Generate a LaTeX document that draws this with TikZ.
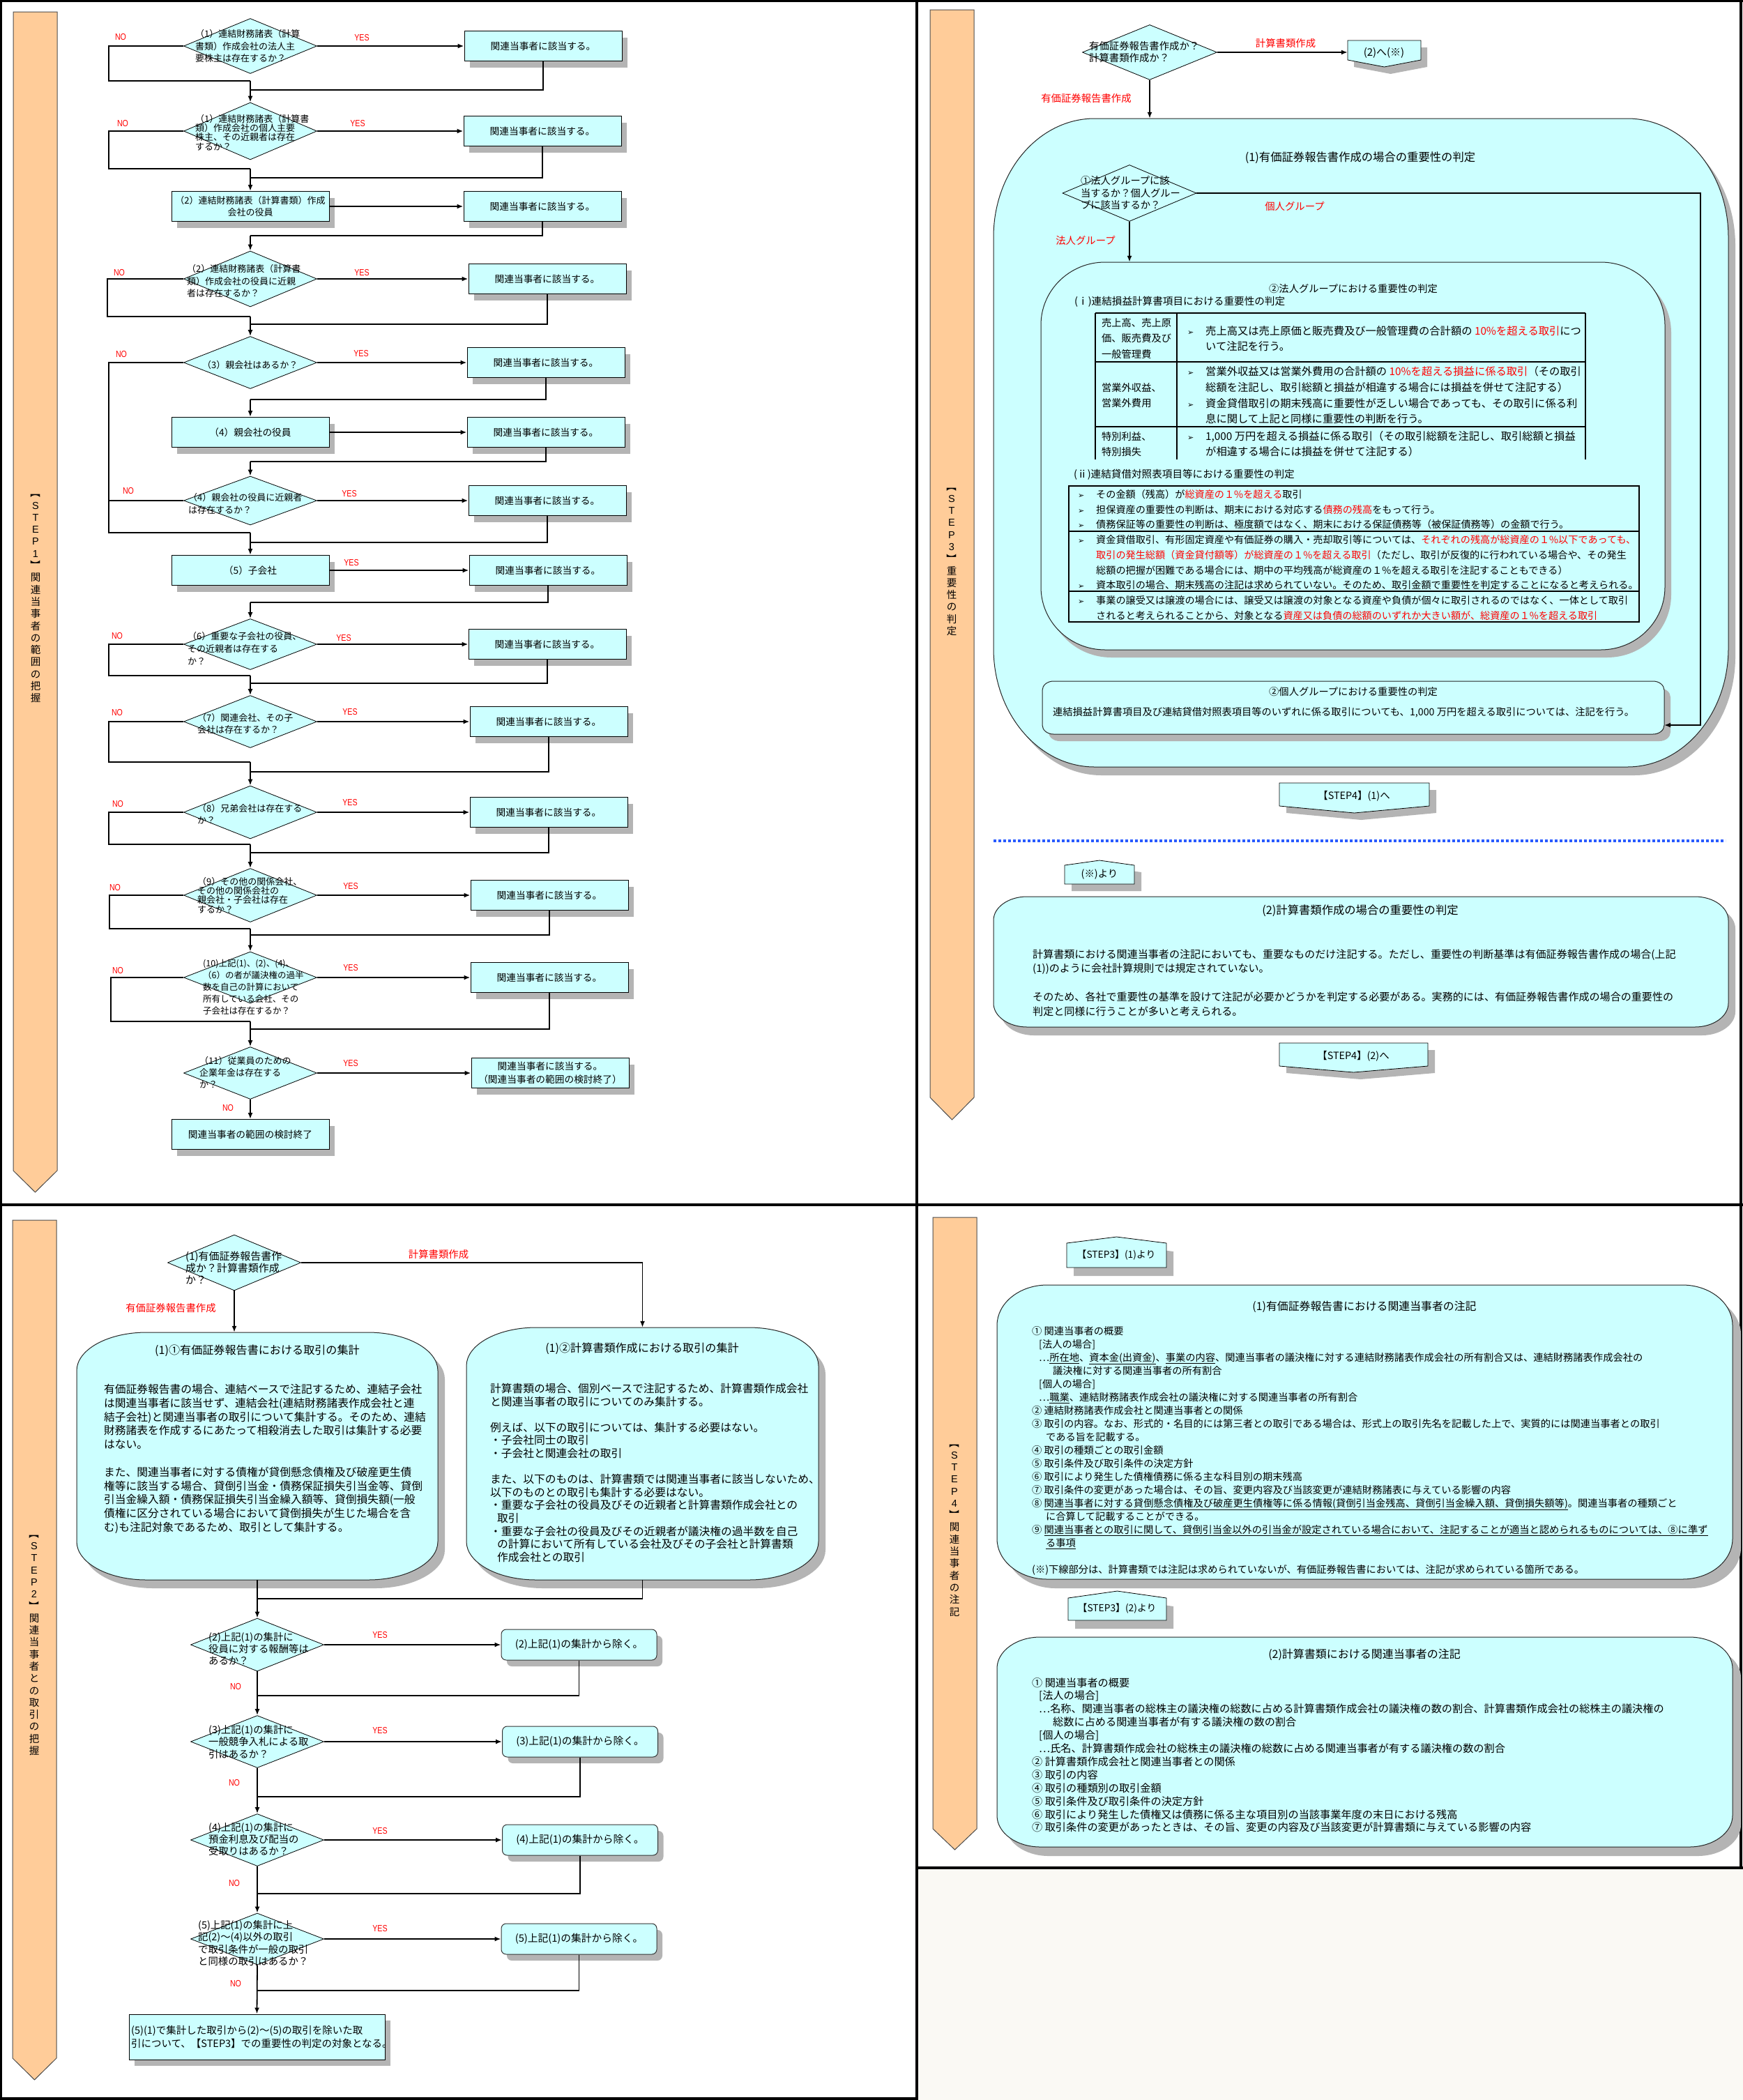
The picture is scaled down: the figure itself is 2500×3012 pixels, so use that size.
\documentclass[tikz,border=0pt]{standalone}
\usepackage{fontspec}
\usepackage{graphicx}
\usetikzlibrary{shapes.geometric,arrows.meta,shadows}
\setmainfont{Liberation Sans}
\newfontfamily\jp{Noto Sans CJK JP}
\newfontfamily\latn[FakeStretch=0.82]{Liberation Sans}
\newfontfamily\lat{Liberation Sans}
\newfontfamily\dv{DejaVu Sans}
\newcommand\FJ[2]{\jp\fontsize{#1}{#2}\selectfont\lineskiplimit=-60pt\relax}
\newcommand\FW[2]{\jp\fontsize{\fpeval{#1*1.15}}{#2}\selectfont\lineskiplimit=-60pt\relax}
\newcommand\RED[1]{\textcolor{red}{#1}}
\newcommand\UL[1]{\underline{#1}}
\newcommand\BUL{\makebox[26pt][l]{\dv\fontsize{11}{11}\selectfont ➢}}
\newcommand\RB[1]{\rotatebox[origin=c]{-90}{#1}}
\newcommand\rrpath[6]{({#1+#5},#2) -- ({#3-#5},#2) .. controls ({#3-0.448*#5},#2) and (#3,{#2+0.448*#6}) .. (#3,{#2+#6}) -- (#3,{#4-#6}) .. controls (#3,{#4-0.448*#6}) and ({#3-0.448*#5},#4) .. ({#3-#5},#4) -- ({#1+#5},#4) .. controls ({#1+0.448*#5},#4) and (#1,{#4-0.448*#6}) .. (#1,{#4-#6}) -- (#1,{#2+#6}) .. controls (#1,{#2+0.448*#6}) and ({#1+0.448*#5},#2) .. ({#1+#5},#2) -- cycle}
\newcommand\PDown[5]{(#1,#3) -- (#2,#3) -- (#2,#4) -- ({(#1+#2)/2},#5) -- (#1,#4) -- cycle}
\newcommand\PUp[5]{({(#1+#2)/2},#3) -- (#2,#4) -- (#2,#5) -- (#1,#5) -- (#1,#4) -- cycle}
\definecolor{cy}{RGB}{204,255,255}
\definecolor{barc}{RGB}{255,204,153}
\definecolor{shg}{RGB}{180,180,180}
\definecolor{offw}{RGB}{250,249,244}
\definecolor{dotb}{RGB}{40,90,255}
\tikzset{
 cLine/.style={line width=1.8pt},
 cArr/.style={line width=1.8pt,-{Latex[length=9pt,width=7pt]}},
 cFrame/.style={line width=3.6pt},
 cDia/.style={diamond,draw=black,line width=0.8pt,fill=cy,minimum width=191pt,inner sep=0pt},
 cShadow/.style={drop shadow={shadow xshift=8pt,shadow yshift=-9pt,fill=shg,opacity=1}},
 cBox/.style={rectangle,draw=black,line width=1pt,fill=cy,minimum width=226pt,minimum height=43pt,inner sep=0pt,align=center,font=\FJ{13.7}{19},cShadow},
 cSBox/.style={rectangle,rounded corners=7pt,draw=black!80,line width=1pt,fill=cy,minimum width=223pt,minimum height=44pt,inner sep=0pt,font=\FW{12.8}{16},cShadow},
 cYN/.style={font=\latn\fontsize{13}{13}\selectfont,text=red,inner sep=0pt},
 cRed/.style={font=\FW{12.5}{15},text=red,inner sep=0pt},
 cTxt/.style={inner sep=0pt,align=left,anchor=west},
 cDt/.style={inner sep=0pt,align=left,anchor=west},
 cGhost/.style={inner sep=0pt,draw=none,fill=none},
 cBar/.style={fill=barc,draw=black!70,line width=1pt},
 cStepLab/.style={inner sep=0pt,align=center,font=\FJ{14.5}{17.3}},
 cRR/.style={fill=cy,draw=black!85,line width=1pt},
 cPent/.style={fill=cy,draw=black,line width=0.8pt},
}
\begin{document}
\begin{tikzpicture}[x=1pt,y=-1pt]
\useasboundingbox (0,0) rectangle (2500,3012);
\fill[white] (0,0) rectangle (2500,3012);
\fill[offw] (1315,2679) rectangle (2500,3012);
% ===== frames
\draw[cFrame] (0,1.5) -- (2500,1.5);
\draw[cFrame] (1.5,0) -- (1.5,3012);
\draw[cFrame] (2497,0) -- (2497,2679);
\draw[cFrame] (1315,0) -- (1315,3012);
\draw[cFrame] (0,1728) -- (2500,1728);
\draw[cFrame] (1315,2679) -- (2500,2679);
\draw[cFrame] (0,3010) -- (1315,3010);
% ===== STEP bars
\filldraw[cBar] (19,17) -- (82,17) -- (82,1679) -- (50.5,1710) -- (19,1679) -- cycle;
\filldraw[cBar] (1334,14) -- (1397,14) -- (1397,1574) -- (1365.5,1606) -- (1334,1574) -- cycle;
\filldraw[cBar] (18,1750) -- (81,1750) -- (81,2952) -- (49.5,2983) -- (18,2952) -- cycle;
\filldraw[cBar] (1338,1746) -- (1401,1746) -- (1401,2623) -- (1369.5,2653) -- (1338,2623) -- cycle;
\node[cStepLab] (lab1) at (51,854) {\RB{【}\\{\lat S}\\{\lat T}\\{\lat E}\\{\lat P}\\{\lat 1}\\\RB{】}\\関\\連\\当\\事\\者\\の\\範\\囲\\の\\把\\握};
\node[cStepLab] (lab3) at (1365,801) {\RB{【}\\{\lat S}\\{\lat T}\\{\lat E}\\{\lat P}\\{\lat 3}\\\RB{】}\\重\\要\\性\\の\\判\\定};
\node[cStepLab] (lab2) at (49,2355) {\RB{【}\\{\lat S}\\{\lat T}\\{\lat E}\\{\lat P}\\{\lat 2}\\\RB{】}\\関\\連\\当\\事\\者\\と\\の\\取\\引\\の\\把\\握};
\node[cStepLab] (lab4) at (1369,2190) {\RB{【}\\{\lat S}\\{\lat T}\\{\lat E}\\{\lat P}\\{\lat 4}\\\RB{】}\\関\\連\\当\\事\\者\\の\\注\\記};

% ================= STEP1 =================
\node[cDia,minimum height=79pt] (D1) at (359,66) {};
\node[cDia,minimum height=82pt] (D2) at (359,188) {};
\node[cBox,font=\FJ{13}{17}] (B2) at (359,296) {（2）連結財務諸表（計算書類）作成\\会社の役員};
\node[cDia,minimum height=80pt] (D3) at (359,400) {};
\node[cDia,minimum height=75pt] (D4) at (359,520) {};
\node[cBox] (B4) at (359,620) {（4）親会社の役員};
\node[cDia,minimum height=70pt] (D5) at (359,718) {};
\node[cBox] (B5) at (359,818) {（5）子会社};
\node[cDia,minimum height=73pt] (D6) at (359,924) {};
\node[cDia,minimum height=75pt] (D7) at (359,1035) {};
\node[cDia,minimum height=76pt] (D8) at (359,1165) {};
\node[cDia,minimum height=77pt] (D9) at (359,1284) {};
\node[cDia,minimum height=74pt] (D10) at (359,1402) {};
\node[cDia,minimum height=75pt] (D11) at (359,1539) {};
\node[cBox] (End) at (359,1627) {関連当事者の範囲の検討終了};

\node[cBox] (Y1) at (779,66) {関連当事者に該当する。};
\node[cBox] (Y2) at (778,188) {関連当事者に該当する。};
\node[cBox] (Y3) at (778,296) {関連当事者に該当する。};
\node[cBox] (Y4) at (785,400) {関連当事者に該当する。};
\node[cBox] (Y5) at (783,520) {関連当事者に該当する。};
\node[cBox] (Y6) at (783,620) {関連当事者に該当する。};
\node[cBox] (Y7) at (785,718) {関連当事者に該当する。};
\node[cBox] (Y8) at (786,818) {関連当事者に該当する。};
\node[cBox] (Y9) at (785,924) {関連当事者に該当する。};
\node[cBox] (Y10) at (787,1035) {関連当事者に該当する。};
\node[cBox] (Y11) at (787,1165) {関連当事者に該当する。};
\node[cBox] (Y12) at (788,1284) {関連当事者に該当する。};
\node[cBox] (Y13) at (788,1402) {関連当事者に該当する。};
\node[cBox] (Y14) at (789,1539) {関連当事者に該当する。\\（関連当事者の範囲の検討終了）};

% diamond texts
\node[cDt,font=\FJ{13}{17.5}] (D1t) at (280,66) {（1）連結財務諸表（計算\\書類）作成会社の法人主\\要株主は存在するか？};
\node[cDt,font=\FJ{13}{13.3}] (D2t) at (280,190) {（1）連結財務諸表（計算書\\類）作成会社の個人主要\\株主、その近親者は存在\\するか？};
\node[cDt,font=\FJ{13}{17.5}] (D3t) at (268,403) {（2）連結財務諸表（計算書\\類）作成会社の役員に近親\\者は存在するか？};
\node[cDt,font=\FJ{13}{17.5}] (D4t) at (290,524) {（3）親会社はあるか？};
\node[cDt,font=\FJ{13}{18}] (D5t) at (270,722) {（4）親会社の役員に近親者\\は存在するか？};
\node[cDt,font=\FJ{13}{18}] (D6t) at (269,930) {（6）重要な子会社の役員、\\その近親者は存在する\\か？};
\node[cDt,font=\FJ{13}{17}] (D7t) at (283,1038) {（7）関連会社、その子\\会社は存在するか？};
\node[cDt,font=\FJ{13}{17}] (D8t) at (283,1168) {（8）兄弟会社は存在する\\か？};
\node[cDt,font=\FJ{13}{13.3}] (D9t) at (283,1284) {（9）その他の関係会社、\\その他の関係会社の\\親会社・子会社は存在\\するか？};
\node[cDt,font=\FJ{12.5}{17}] (D10t) at (291,1416) {(10)上記(1)、(2)、(4)、\\（6）の者が議決権の過半\\数を自己の計算において\\所有している会社、その\\子会社は存在するか？};
\node[cDt,font=\FJ{13}{16.7}] (D11t) at (286,1538) {（11）従業員のための\\企業年金は存在する\\か？};

% merge coordinates
\coordinate (m1) at (359,116); \coordinate (k1) at (359,129);
\coordinate (m2) at (359,242); \coordinate (k2) at (359,255);
\coordinate (k3) at (359,338);
\coordinate (m4) at (359,454); \coordinate (k4) at (359,465);
\coordinate (k5) at (359,573);
\coordinate (k6) at (359,662);
\coordinate (m6) at (359,764); \coordinate (k7) at (359,778);
\coordinate (k8) at (359,864);
\coordinate (m9) at (359,969); \coordinate (k9) at (359,980);
\coordinate (m10) at (359,1093); \coordinate (k10) at (359,1107);
\coordinate (m11) at (359,1211); \coordinate (k11) at (359,1223);
\coordinate (m12) at (359,1332); \coordinate (k12) at (359,1341);
\coordinate (m13) at (359,1465); \coordinate (k13) at (359,1476);

% connectors STEP1
\draw[cArr] (D1.east) -- (D1.east -| Y1.west);
\draw[cLine] (D1.west) -- ++(-107,0) |- (m1);
\draw[cLine] (Y1.south) |- (k1);
\draw[cArr] (m1) -- (D2.north);
\draw[cArr] (D2.east) -- (D2.east -| Y2.west);
\draw[cLine] (D2.west) -- ++(-107,0) |- (m2);
\draw[cLine] (Y2.south) |- (k2);
\draw[cArr] (m2) -- (B2.north);
\draw[cArr] (B2.east) -- (B2.east -| Y3.west);
\draw[cLine] (Y3.south) |- (k3);
\draw[cArr] (k3) -- (D3.north);
\draw[cArr] (D3.east) -- (D3.east -| Y4.west);
\draw[cLine] (D3.west) -- ++(-109,0) |- (m4);
\draw[cLine] (Y4.south) |- (k4);
\draw[cArr] (m4) -- (D4.north);
\draw[cArr] (D4.east) -- (D4.east -| Y5.west);
\draw[cLine] (D4.west) -- ++(-107,0) |- (m6);
\draw[cLine] (Y5.south) |- (k5);
\draw[cArr] (k5) -- (B4.north);
\draw[cArr] (B4.east) -- (B4.east -| Y6.west);
\draw[cLine] (Y6.south) |- (k6);
\draw[cArr] (k6) -- (D5.north);
\draw[cArr] (D5.east) -- (D5.east -| Y7.west);
\draw[cLine] (D5.west) -- ++(-107,0);
\draw[cLine] (Y7.south) |- (k7);
\draw[cArr] (m6) -- (B5.north);
\draw[cArr] (B5.east) -- (B5.east -| Y8.west);
\draw[cLine] (Y8.south) |- (k8);
\draw[cArr] (k8) -- (D6.north);
\draw[cArr] (D6.east) -- (D6.east -| Y9.west);
\draw[cLine] (D6.west) -- ++(-107,0) |- (m9);
\draw[cLine] (Y9.south) |- (k9);
\draw[cArr] (m9) -- (D7.north);
\draw[cArr] (D7.east) -- (D7.east -| Y10.west);
\draw[cLine] (D7.west) -- ++(-107,0) |- (m10);
\draw[cLine] (Y10.south) |- (k10);
\draw[cArr] (m10) -- (D8.north);
\draw[cArr] (D8.east) -- (D8.east -| Y11.west);
\draw[cLine] (D8.west) -- ++(-107,0) |- (m11);
\draw[cLine] (Y11.south) |- (k11);
\draw[cArr] (m11) -- (D9.north);
\draw[cArr] (D9.east) -- (D9.east -| Y12.west);
\draw[cLine] (D9.west) -- ++(-106,0) |- (m12);
\draw[cLine] (Y12.south) |- (k12);
\draw[cArr] (m12) -- (D10.north);
\draw[cArr] (D10.east) -- (D10.east -| Y13.west);
\draw[cLine] (D10.west) -- ++(-104,0) |- (m13);
\draw[cLine] (Y13.south) |- (k13);
\draw[cArr] (m13) -- (D11.north);
\draw[cArr] (D11.east) -- (D11.east -| Y14.west);
\draw[cArr] (D11.south) -- (End.north);

% YES / NO STEP1
\node[cYN] (n1) at (173,53) {NO};   \node[cYN] (y1) at (519,54) {YES};
\node[cYN] (n2) at (176,177) {NO};  \node[cYN] (y2) at (513,177) {YES};
\node[cYN] (n3) at (171,391) {NO};  \node[cYN] (y3) at (519,391) {YES};
\node[cYN] (n4) at (174,508) {NO};  \node[cYN] (y4) at (518,507) {YES};
\node[cYN] (n5) at (184,704) {NO};  \node[cYN] (y5) at (501,708) {YES};
\node[cYN] (y5b) at (504,807) {YES};
\node[cYN] (n6) at (168,912) {NO};  \node[cYN] (y6) at (493,915) {YES};
\node[cYN] (n7) at (168,1022) {NO}; \node[cYN] (y7) at (502,1021) {YES};
\node[cYN] (n8) at (169,1153) {NO}; \node[cYN] (y8) at (502,1151) {YES};
\node[cYN] (n9) at (165,1273) {NO}; \node[cYN] (y9) at (503,1271) {YES};
\node[cYN] (n10) at (169,1392) {NO}; \node[cYN] (y10) at (503,1388) {YES};
\node[cYN] (y11) at (503,1525) {YES}; \node[cYN] (n11) at (327,1589) {NO};

% ================= STEP2 =================
\node[cDia,minimum height=80pt] (S1) at (336,1811) {};
\node[cDt,font=\FW{13}{17}] (S1t) at (266,1818) {(1)有価証券報告書作\\成か？計算書類作成\\か？};
\node[cRed] (r1) at (629,1799) {計算書類作成};
\node[cRed] (r2) at (245,1876) {有価証券報告書作成};
\node[cGhost,minimum width=518pt,minimum height=355pt] (L1) at (369,2088.5) {};
\node[cGhost,minimum width=505pt,minimum height=362pt] (L2) at (921.5,2085) {};
\fill[shg,shift={(10,12)}] \rrpath{110}{1911}{628}{2266}{100}{55};
\filldraw[cRR] \rrpath{110}{1911}{628}{2266}{100}{55};
\fill[shg,shift={(10,12)}] \rrpath{669}{1904}{1174}{2266}{100}{55};
\filldraw[cRR] \rrpath{669}{1904}{1174}{2266}{100}{55};
\node[inner sep=0pt,font=\FW{14}{17}] (L1h) at (369,1937) {(1)①有価証券報告書における取引の集計};
\node[inner sep=0pt,font=\FW{14}{17}] (L2h) at (921,1934) {(1)②計算書類作成における取引の集計};
\node[cTxt,anchor=north west,font=\FW{13.7}{19.8}] (L1t) at (149,1985) {有価証券報告書の場合、連結ベースで注記するため、連結子会社\\は関連当事者に該当せず、連結会社(連結財務諸表作成会社と連\\結子会社)と関連当事者の取引について集計する。そのため、連結\\財務諸表を作成するにあたって相殺消去した取引は集計する必要\\はない。\\[19.8pt]また、関連当事者に対する債権が貸倒懸念債権及び破産更生債\\権等に該当する場合、貸倒引当金・債務保証損失引当金等、貸倒\\引当金繰入額・債務保証損失引当金繰入額等、貸倒損失額(一般\\債権に区分されている場合において貸倒損失が生じた場合を含\\む)も注記対象であるため、取引として集計する。};
\node[cTxt,anchor=north west,font=\FW{13.7}{18.6}] (L2t) at (703,1984) {計算書類の場合、個別ベースで注記するため、計算書類作成会社\\と関連当事者の取引についてのみ集計する。\\[18.6pt]例えば、以下の取引については、集計する必要はない。\\・子会社同士の取引\\・子会社と関連会社の取引\\[18.6pt]また、以下のものは、計算書類では関連当事者に該当しないため、\\以下のものとの取引も集計する必要はない。\\・重要な子会社の役員及びその近親者と計算書類作成会社との\\\hspace*{10pt}取引\\・重要な子会社の役員及びその近親者が議決権の過半数を自己\\\hspace*{10pt}の計算において所有している会社及びその子会社と計算書類\\\hspace*{10pt}作成会社との取引};
\draw[cArr] (S1.east) -| (L2.north);
\draw[cArr] (S1.south) -- (S1.south |- L1.north);
\coordinate (mL) at (369,2293);
\draw[cLine] (L2.south) |- (mL);

\node[cDia,minimum height=76pt] (S2) at (369,2359) {};
\node[cDia,minimum height=75pt] (S3) at (369,2498) {};
\node[cDia,minimum height=75pt] (S4) at (369,2639) {};
\node[cDia,minimum height=74pt] (S5) at (369,2781) {};
\node[cDt,font=\FW{12.5}{17}] (S2t) at (299,2365) {(2)上記(1)の集計に\\役員に対する報酬等は\\あるか？};
\node[cDt,font=\FW{12.5}{17.5}] (S3t) at (299,2498) {(3)上記(1)の集計に\\一般競争入札による取\\引はあるか？};
\node[cDt,font=\FW{12.5}{17}] (S4t) at (299,2638) {(4)上記(1)の集計に\\預金利息及び配当の\\受取りはあるか？};
\node[cDt,font=\FW{12.5}{17.3}] (S5t) at (284,2787) {(5)上記(1)の集計に上\\記(2)～(4)以外の取引\\で取引条件が一般の取引\\と同様の取引はあるか？};
\node[cSBox] (R2) at (830.5,2359) {(2)上記(1)の集計から除く。};
\node[cSBox] (R3) at (832,2498) {(3)上記(1)の集計から除く。};
\node[cSBox] (R4) at (832,2639) {(4)上記(1)の集計から除く。};
\node[cSBox] (R5) at (830.5,2781) {(5)上記(1)の集計から除く。};
\node[cBox,minimum width=367pt,minimum height=65pt] (F) at (368.5,2921.5) {};
\node[cTxt,font=\FW{12.6}{19}] (Ft) at (188,2921.5) {(5)(1)で集計した取引から(2)～(5)の取引を除いた取\\引について、【STEP3】での重要性の判定の対象となる。};
\coordinate (q2) at (369,2432); \coordinate (q3) at (369,2577);
\coordinate (q4) at (369,2716); \coordinate (q5) at (369,2855);
\draw[cArr] (L1.south) -- (S2.north);
\draw[cArr] (S2.east) -- (S2.east -| R2.west);
\draw[cArr] (S3.east) -- (S3.east -| R3.west);
\draw[cArr] (S4.east) -- (S4.east -| R4.west);
\draw[cArr] (S5.east) -- (S5.east -| R5.west);
\draw[cLine] (R2.south) |- (q2);
\draw[cLine] (R3.south) |- (q3);
\draw[cLine] (R4.south) |- (q4);
\draw[cLine] (R5.south) |- (q5);
\draw[cArr] (S2.south) -- (S3.north);
\draw[cArr] (S3.south) -- (S4.north);
\draw[cArr] (S4.south) -- (S5.north);
\draw[cArr] (S5.south) -- (F.north);
\node[cYN] (sy2) at (545,2345) {YES}; \node[cYN] (sn2) at (338,2419) {NO};
\node[cYN] (sy3) at (545,2482) {YES}; \node[cYN] (sn3) at (336,2557) {NO};
\node[cYN] (sy4) at (545,2626) {YES}; \node[cYN] (sn4) at (336,2701) {NO};
\node[cYN] (sy5) at (545,2766) {YES}; \node[cYN] (sn5) at (338,2845) {NO};

% ================= STEP3 =================
\node[cDia,minimum width=193pt,minimum height=79pt] (T1) at (1649,75) {};
\node[cDt,font=\FW{12.5}{17}] (T1t) at (1562,74.5) {有価証券報告書作成か？\\計算書類作成か？};
\node[cGhost,minimum width=105pt,minimum height=28pt] (P1) at (1985.5,72) {};
\fill[shg,shift={(9,10)}] \PDown{1933}{2038}{58}{86}{96};
\filldraw[cPent] \PDown{1933}{2038}{58}{86}{96};
\node[inner sep=0pt,font=\FW{13}{15}] (P1t) at (1985,76) {(2)へ(※)};
\draw[cArr] (T1.east) -- (T1.east -| P1.west);
\node[cRed] (r3) at (1844,62) {計算書類作成};
\node[cRed] (r4) at (1558,141) {有価証券報告書作成};
\node[cGhost,minimum width=1054pt,minimum height=930pt] (B31) at (1952,635) {};
\fill[shg,shift={(10,12)}] \rrpath{1425}{170}{2479}{1100}{145}{170};
\filldraw[cRR] \rrpath{1425}{170}{2479}{1100}{145}{170};
\draw[cArr] (T1.south) -- (T1.south |- B31.north);
\node[inner sep=0pt,font=\FW{14.2}{17}] (B31h) at (1951,226) {(1)有価証券報告書作成の場合の重要性の判定};
\node[cDia,minimum width=192pt,minimum height=81pt] (T2) at (1620,277) {};
\node[cDt,font=\FW{12.4}{17.5}] (T2t) at (1550,277) {①法人グループに該\\当するか？個人グルー\\プに該当するか？};
\node[cRed] (r5) at (1857,296) {個人グループ};
\node[cRed] (r6) at (1557,345) {法人グループ};
\node[cGhost,minimum width=895pt,minimum height=556pt] (B32) at (1940.5,654) {};
\fill[shg,shift={(9,11)}] \rrpath{1493}{376}{2388}{932}{92}{90};
\filldraw[cRR] \rrpath{1493}{376}{2388}{932}{92}{90};
\draw[cArr] (T2.south) -- (T2.south |- B32.north);
\node[inner sep=0pt,font=\FW{12.4}{15}] (B32h) at (1941,414) {②法人グループにおける重要性の判定};
\node[cTxt,font=\FW{12.7}{15}] (h1) at (1541,433) {(ⅰ)連結損益計算書項目における重要性の判定};
% table (i)
\draw[line width=1.3pt] (1571,449) -- (2274,449);
\draw[line width=1.3pt] (1571,519) -- (2274,519);
\draw[line width=1.3pt] (1571,612) -- (2274,612);
\draw[line width=1.1pt] (1571,449) -- (1571,659);
\draw[line width=1.1pt] (1688,449) -- (1688,659);
\draw[line width=1.1pt] (2274,449) -- (2274,659);
\node[cTxt,anchor=north west,font=\FW{12.4}{22.5}] (c11) at (1580,456) {売上高、売上原\\価、販売費及び\\一般管理費};
\node[cTxt,anchor=north west,font=\FW{12.4}{22}] (c21) at (1580,549) {営業外収益、\\営業外費用};
\node[cTxt,anchor=north west,font=\FW{12.4}{22}] (c31) at (1580,619) {特別利益、\\特別損失};
\node[cTxt,anchor=north west,font=\FW{13.3}{22}] (c12) at (1703,467.5) {\BUL 売上高又は売上原価と販売費及び一般管理費の合計額の \RED{10\%を超える取引}につ\\\hspace*{26pt}いて注記を行う。};
\node[cTxt,anchor=north west,font=\FW{13.3}{22.7}] (c22) at (1703,525.5) {\BUL 営業外収益又は営業外費用の合計額の \RED{10\%を超える損益に係る取引}（その取引\\\hspace*{26pt}総額を注記し、取引総額と損益が相違する場合には損益を併せて注記する）\\\BUL 資金貸借取引の期末残高に重要性が乏しい場合であっても、その取引に係る利\\\hspace*{26pt}息に関して上記と同様に重要性の判断を行う。};
\node[cTxt,anchor=north west,font=\FW{13.3}{22}] (c32) at (1703,618.5) {\BUL 1,000 万円を超える損益に係る取引（その取引総額を注記し、取引総額と損益\\\hspace*{26pt}が相違する場合には損益を併せて注記する）};
\node[cTxt,font=\FW{12.7}{15}] (h2) at (1540,681) {(ⅱ)連結貸借対照表項目等における重要性の判定};
% table (ii)
\draw[line width=1.3pt] (1533,697) rectangle (2351,892);
\draw[line width=1.3pt] (1533,762) -- (2351,762);
\draw[line width=1.3pt] (1533,848) -- (2351,848);
\node[cTxt,anchor=north west,font=\FW{12.3}{21.75}] (c4) at (1546,702) {\BUL その金額（残高）が\RED{総資産の１\%を超える}取引\\\BUL 担保資産の重要性の判断は、期末における対応する\RED{債務の残高}をもって行う。\\\BUL 債務保証等の重要性の判断は、極度額ではなく、期末における保証債務等（被保証債務等）の金額で行う。\\\BUL 資金貸借取引、有形固定資産や有価証券の購入・売却取引等については、\RED{それぞれの残高が総資産の１\%以下であっても、}\\\hspace*{26pt}\RED{取引の発生総額（資金貸付額等）が総資産の１\%を超える取引}（ただし、取引が反復的に行われている場合や、その発生\\\hspace*{26pt}総額の把握が困難である場合には、期中の平均残高が総資産の１\%を超える取引を注記することもできる）\\\BUL 資本取引の場合、期末残高の注記は求められていない。そのため、取引金額で重要性を判定することになると考えられる。\\\BUL 事業の譲受又は譲渡の場合には、譲受又は譲渡の対象となる資産や負債が個々に取引されるのではなく、一体として取引\\\hspace*{26pt}されると考えられることから、対象となる\RED{資産又は負債の総額のいずれか大きい額が、総資産の１\%を超える取引}};
% box (2) individual
\node[cGhost,minimum width=892pt,minimum height=76pt] (B33) at (1941,1015) {};
\fill[shg,shift={(9,10)}] \rrpath{1495}{977}{2387}{1053}{16}{13};
\filldraw[cRR] \rrpath{1495}{977}{2387}{1053}{16}{13};
\node[inner sep=0pt,font=\FW{12.4}{15}] (B33h) at (1941,992) {②個人グループにおける重要性の判定};
\node[cTxt,font=\FW{12.4}{15}] (B33t) at (1510,1022) {連結損益計算書項目及び連結貸借対照表項目等のいずれに係る取引についても、1,000 万円を超える取引については、注記を行う。};
\coordinate (c1) at (2439,277);
\coordinate (c2) at (2387,1040);
\draw[cArr] (T2.east) -- (c1) |- (c2);
% pentagon STEP4(1)
\node[cGhost,minimum width=215pt,minimum height=33pt] (P2) at (1942.5,1139.5) {};
\fill[shg,shift={(10,10)}] \PDown{1835}{2050}{1123}{1156}{1166};
\filldraw[cPent] \PDown{1835}{2050}{1123}{1156}{1166};
\node[inner sep=0pt,font=\FW{12.5}{15}] (P2t) at (1942,1142) {【STEP4】(1)へ};
\draw[dotb,line width=4pt,dash pattern=on 4pt off 3pt] (1425,1206) -- (2475,1206);
\node[cGhost,minimum width=100pt,minimum height=34pt] (P3) at (1577,1251) {};
\fill[shg,shift={(10,10)}] \PUp{1527}{1627}{1234}{1241}{1268};
\filldraw[cPent] \PUp{1527}{1627}{1234}{1241}{1268};
\node[inner sep=0pt,font=\FW{12.5}{15}] (P3t) at (1577,1254) {(※)より};
\fill[shg,shift={(10,12)}] \rrpath{1425}{1286}{2479}{1473}{48}{34};
\filldraw[cRR] \rrpath{1425}{1286}{2479}{1473}{48}{34};
\node[inner sep=0pt,font=\FW{14.2}{17}] (B34h) at (1951,1306) {(2)計算書類作成の場合の重要性の判定};
\node[cTxt,anchor=north west,font=\FW{13.1}{20.5}] (B34t) at (1481,1361.5) {計算書類における関連当事者の注記においても、重要なものだけ注記する。ただし、重要性の判断基準は有価証券報告書作成の場合(上記\\(1))のように会社計算規則では規定されていない。\\[20.5pt]そのため、各社で重要性の基準を設けて注記が必要かどうかを判定する必要がある。実務的には、有価証券報告書作成の場合の重要性の\\判定と同様に行うことが多いと考えられる。};
\node[cGhost,minimum width=213pt,minimum height=33pt] (P4) at (1941.5,1512.5) {};
\fill[shg,shift={(10,10)}] \PDown{1835}{2048}{1496}{1529}{1538};
\filldraw[cPent] \PDown{1835}{2048}{1496}{1529}{1538};
\node[inner sep=0pt,font=\FW{12.5}{15}] (P4t) at (1941,1515) {【STEP4】(2)へ};

% ================= STEP4 =================
\node[cGhost,minimum width=143pt,minimum height=44pt] (P5) at (1601.5,1796) {};
\fill[shg,shift={(10,12)}] \PUp{1530}{1673}{1774}{1783}{1818};
\filldraw[cPent] \PUp{1530}{1673}{1774}{1783}{1818};
\node[inner sep=0pt,font=\FW{12}{15}] (P5t) at (1601,1800) {【STEP3】(1)より};
\fill[shg,shift={(12,13)}] \rrpath{1430}{1843}{2485}{2265}{72}{58};
\filldraw[cRR] \rrpath{1430}{1843}{2485}{2265}{72}{58};
\node[inner sep=0pt,font=\FW{13.8}{17}] (B41h) at (1957,1874) {(1)有価証券報告書における関連当事者の注記};
\node[cTxt,anchor=north west,font=\FW{12.4}{19}] (B41t) at (1480,1902) {① 関連当事者の概要\\\hspace*{10pt}[法人の場合]\\\hspace*{10pt}…\UL{所在地}、\UL{資本金(出資金)}、\UL{事業の内容}、関連当事者の議決権に対する連結財務諸表作成会社の所有割合又は、連結財務諸表作成会社の\\\hspace*{30pt}議決権に対する関連当事者の所有割合\\\hspace*{10pt}[個人の場合]\\\hspace*{10pt}…\UL{職業}、連結財務諸表作成会社の議決権に対する関連当事者の所有割合\\② 連結財務諸表作成会社と関連当事者との関係\\③ 取引の内容。なお、形式的・名目的には第三者との取引である場合は、形式上の取引先名を記載した上で、実質的には関連当事者との取引\\\hspace*{20pt}である旨を記載する。\\④ 取引の種類ごとの取引金額\\⑤ 取引条件及び取引条件の決定方針\\⑥ 取引により発生した債権債務に係る主な科目別の期末残高\\⑦ 取引条件の変更があった場合は、その旨、変更内容及び当該変更が連結財務諸表に与えている影響の内容\\⑧ \UL{関連当事者に対する貸倒懸念債権及び破産更生債権等に係る情報(貸倒引当金残高、貸倒引当金繰入額、貸倒損失額等)}。関連当事者の種類ごと\\\hspace*{20pt}に合算して記載することができる。\\⑨ \UL{関連当事者との取引に関して、貸倒引当金以外の引当金が設定されている場合において、注記することが適当と認められるものについては、⑧に準ず}\\\hspace*{20pt}\UL{る事項}\\[19pt](※)下線部分は、計算書類では注記は求められていないが、有価証券報告書においては、注記が求められている箇所である。};
\node[cGhost,minimum width=141pt,minimum height=42pt] (P6) at (1602.5,2303) {};
\fill[shg,shift={(10,12)}] \PUp{1532}{1673}{2282}{2292}{2324};
\filldraw[cPent] \PUp{1532}{1673}{2282}{2292}{2324};
\node[inner sep=0pt,font=\FW{12}{15}] (P6t) at (1602,2307) {【STEP3】(2)より};
\fill[shg,shift={(12,13)}] \rrpath{1430}{2348}{2485}{2649}{62}{45};
\filldraw[cRR] \rrpath{1430}{2348}{2485}{2649}{62}{45};
\node[inner sep=0pt,font=\FW{13.9}{17}] (B42h) at (1957,2373) {(2)計算書類における関連当事者の注記};
\node[cTxt,anchor=north west,font=\FW{13.2}{18.9}] (B42t) at (1480,2406) {① 関連当事者の概要\\\hspace*{10pt}[法人の場合]\\\hspace*{10pt}…名称、関連当事者の総株主の議決権の総数に占める計算書類作成会社の議決権の数の割合、計算書類作成会社の総株主の議決権の\\\hspace*{30pt}総数に占める関連当事者が有する議決権の数の割合\\\hspace*{10pt}[個人の場合]\\\hspace*{10pt}…氏名、計算書類作成会社の総株主の議決権の総数に占める関連当事者が有する議決権の数の割合\\② 計算書類作成会社と関連当事者との関係\\③ 取引の内容\\④ 取引の種類別の取引金額\\⑤ 取引条件及び取引条件の決定方針\\⑥ 取引により発生した債権又は債務に係る主な項目別の当該事業年度の末日における残高\\⑦ 取引条件の変更があったときは、その旨、変更の内容及び当該変更が計算書類に与えている影響の内容};
\end{tikzpicture}
\end{document}
